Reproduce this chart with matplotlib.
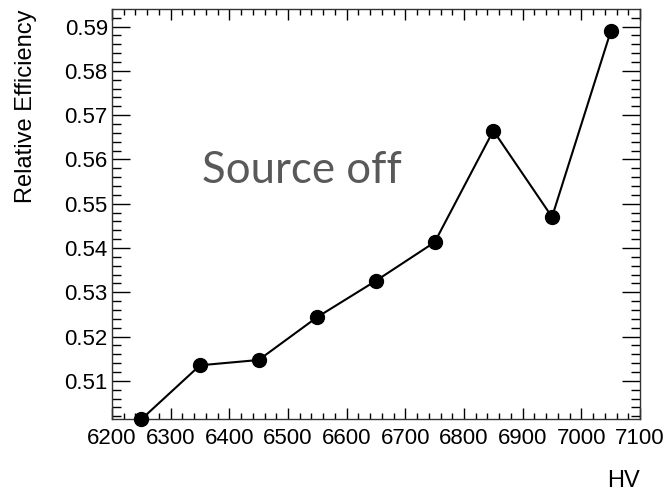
import matplotlib
matplotlib.use("Agg")
import matplotlib.pyplot as plt
from matplotlib.ticker import MultipleLocator, FormatStrFormatter

plt.rcParams['font.family'] = ['Liberation Sans', 'DejaVu Sans']

# high voltage scan, efficiency relative to reference
hv = [6250, 6350, 6450, 6550, 6650, 6750, 6850, 6950, 7050]
rel_eff = [0.5013, 0.5135, 0.5147, 0.5244, 0.5326, 0.5413, 0.5665, 0.5470, 0.5889]

fig = plt.figure(figsize=(6.69, 4.91), dpi=100)
ax = fig.add_axes([0.1674, 0.146, 0.7893, 0.835])

ax.plot(hv, rel_eff, color="black", linewidth=1.5, marker="o",
        markersize=10, clip_on=False, zorder=3)

ax.set_xlim(6200, 7100)
ax.set_ylim(0.5013, 0.5939)

ax.xaxis.set_major_locator(MultipleLocator(100))
ax.xaxis.set_minor_locator(MultipleLocator(20))
ax.yaxis.set_major_locator(MultipleLocator(0.01))
ax.yaxis.set_minor_locator(MultipleLocator(0.002))
ax.yaxis.set_major_formatter(FormatStrFormatter("%.2f"))

ax.tick_params(axis="both", which="both", direction="in",
               top=True, right=True, colors="black", labelsize=16)
ax.tick_params(axis="y", which="major", length=13, width=1, pad=3)
ax.tick_params(axis="y", which="minor", length=6.5, width=1)
ax.tick_params(axis="x", which="major", length=8, width=1, pad=6)
ax.tick_params(axis="x", which="minor", length=4.3, width=1)
for sp in ax.spines.values():
    sp.set_linewidth(1)
    sp.set_color("#333333")

ax.set_ylabel("Relative Efficiency", fontsize=17, loc="top")
ax.yaxis.set_label_coords(-0.142, 1.0)
ax.set_xlabel("HV", fontsize=17, loc="right")
ax.xaxis.set_label_coords(1.0, -0.124)

ax.text(0.17, 0.576, "Source off", transform=ax.transAxes,
        fontsize=31.5, family="Lato", color="#595959",
        ha="left", va="baseline")

fig.savefig("out.png", dpi=100)
